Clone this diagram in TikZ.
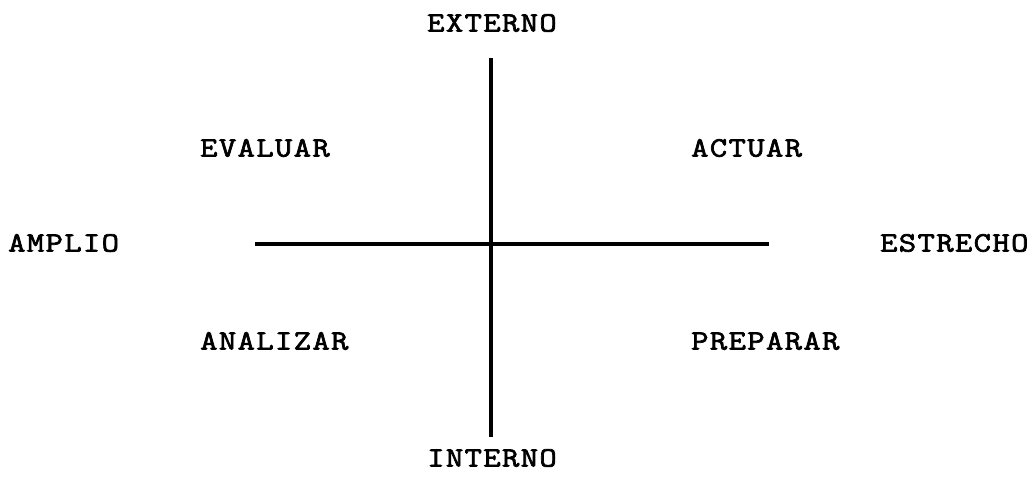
\documentclass[tikz,border=0pt]{standalone}
\usepackage{fontspec}
\newfontfamily\tw[FakeStretch=1.2,LetterSpace=5,FakeBold=2.5]{Latin Modern Mono}
\begin{document}
\begin{tikzpicture}[x=1pt,y=-1pt,
  lbl/.style={font=\tw\fontsize{28}{30}\selectfont, inner sep=0pt},
  axis/.style={line width=4.5pt}]
\useasboundingbox (0,0) rectangle (1034,477);
\coordinate (top) at (491,58);
\coordinate (bot) at (491,437);
\coordinate (lft) at (255,244);
\coordinate (rgt) at (769,244);
\draw[axis] (top) -- (bot);
\draw[axis] (lft) -- (rgt);
\node[lbl] (ext) at (492,23) {EXTERNO};
\node[lbl] (int) at (492,458) {INTERNO};
\node[lbl,anchor=west] (amp) at (8,243) {AMPLIO};
\node[lbl,anchor=west] (est) at (880,243) {ESTRECHO};
\node[lbl,anchor=west] (eva) at (200,148) {EVALUAR};
\node[lbl,anchor=west] (act) at (691,148) {ACTUAR};
\node[lbl,anchor=west] (ana) at (200,341) {ANALIZAR};
\node[lbl,anchor=west] (pre) at (691,341) {PREPARAR};
\end{tikzpicture}
\end{document}
